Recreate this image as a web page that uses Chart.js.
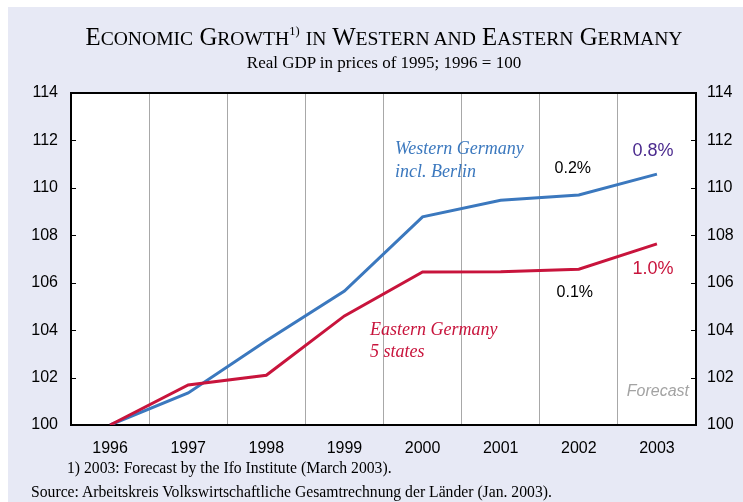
<!DOCTYPE html>
<html>
<head>
<meta charset="utf-8">
<script src="https://cdn.jsdelivr.net/npm/chart.js@4.4.1/dist/chart.umd.min.js"></script>
<style>
  body { margin: 0; background: #fff; }
  #wrap { position: relative; width: 743px; height: 502px; overflow: hidden; background: #fff; }
  #panel { position: absolute; left: 8px; top: 7px; right: 0; bottom: 0; background: #e7e9f5; }
  #chart { position: absolute; left: 0; top: 0; }
  .t { position: absolute; font-family: "Liberation Serif", "Times New Roman", serif; color: #000; white-space: nowrap; line-height: 1; }
  #title { left: 0; width: 768px; top: 25px; text-align: center; font-size: 24.8px; }
  #title .sc { font-size: 19.6px; }
  #title .sup { font-size: 12.5px; position: relative; top: -10px; }
  #subtitle { left: 0; width: 768px; top: 54px; text-align: center; font-size: 17px; }
  #note { left: 67px; top: 460px; font-size: 15.7px; }
  #source { left: 31px; top: 484px; font-size: 15.7px; }
</style>
</head>
<body>
<div id="wrap">
  <div id="panel"></div>
  <canvas id="chart" width="743" height="502"></canvas>
  <div class="t" id="title">E<span class="sc">CONOMIC</span> G<span class="sc">ROWTH</span><span class="sup">1)</span> <span class="sc">IN</span> W<span class="sc">ESTERN AND</span> E<span class="sc">ASTERN</span> G<span class="sc">ERMANY</span></div>
  <div class="t" id="subtitle">Real GDP in prices of 1995; 1996 = 100</div>
  <div class="t" id="note">1) 2003: Forecast by the Ifo Institute (March 2003).</div>
  <div class="t" id="source">Source: Arbeitskreis Volkswirtschaftliche Gesamtrechnung der Länder (Jan. 2003).</div>
</div>
<script>
// Real GDP index, 1996 = 100
const years = ['1996', '1997', '1998', '1999', '2000', '2001', '2002', '2003'];
const western = [100, 101.35, 103.55, 105.65, 108.78, 109.48, 109.70, 110.58];
const eastern = [100, 101.69, 102.10, 104.60, 106.45, 106.46, 106.57, 107.64];
// growth rates (%) labelled for 2002 and 2003
const westernGrowth = { '2002': 0.2, '2003': 0.8 };
const easternGrowth = { '2002': 0.1, '2003': 1.0 };
const yTicks = [100, 102, 104, 106, 108, 110, 112, 114];

const BLUE = '#3b78be';
const RED = '#c8143c';
const PURPLE = '#4b2a8e';
const SANS = '"Liberation Sans", Arial, sans-serif';
const SERIF = '"Liberation Serif", "Times New Roman", serif';

const fmt = v => v.toFixed(1) + '%';

const decor = {
  id: 'decor',
  beforeDraw(chart) {
    const { ctx, chartArea: a } = chart;
    ctx.save();
    ctx.fillStyle = '#ffffff';
    ctx.fillRect(a.left, a.top, a.right - a.left, a.bottom - a.top);
    ctx.restore();
  },
  afterDraw(chart) {
    const { ctx, chartArea: a, scales } = chart;
    const x = scales.x, y = scales.y;
    ctx.save();
    // top frame line
    ctx.strokeStyle = '#000';
    ctx.lineWidth = 2;
    ctx.beginPath();
    ctx.moveTo(a.left - 1, a.top);
    ctx.lineTo(a.right + 1, a.top);
    ctx.stroke();
    // inward tick marks on both value axes
    ctx.lineWidth = 1;
    yTicks.forEach(v => {
      const py = Math.round(y.getPixelForValue(v)) + 0.5;
      ctx.beginPath();
      ctx.moveTo(a.left, py); ctx.lineTo(a.left + 5, py);
      ctx.moveTo(a.right, py); ctx.lineTo(a.right - 5, py);
      ctx.stroke();
    });

    ctx.textBaseline = 'middle';

    // series labels
    ctx.font = 'italic 18px ' + SERIF;
    ctx.textAlign = 'left';
    ctx.fillStyle = BLUE;
    ctx.fillText('Western Germany', 395, 149);
    ctx.fillText('incl. Berlin', 395, 172);
    ctx.fillStyle = RED;
    ctx.fillText('Eastern Germany', 370, 330);
    ctx.fillText('5 states', 370, 352);

    // growth labels
    ctx.textAlign = 'center';
    const x02 = x.getPixelForValue(years.indexOf('2002'));
    const x03 = x.getPixelForValue(years.indexOf('2003'));
    ctx.font = '16px ' + SANS;
    ctx.fillStyle = '#000';
    ctx.fillText(fmt(westernGrowth['2002']), x02 - 6, y.getPixelForValue(western[6]) - 26);
    ctx.fillText(fmt(easternGrowth['2002']), x02 - 4, y.getPixelForValue(eastern[6]) + 23);
    ctx.font = '18px ' + SANS;
    ctx.fillStyle = PURPLE;
    ctx.fillText(fmt(westernGrowth['2003']), x03 - 4, y.getPixelForValue(western[7]) - 23);
    ctx.fillStyle = RED;
    ctx.fillText(fmt(easternGrowth['2003']), x03 - 4, y.getPixelForValue(eastern[7]) + 25);

    // forecast note
    ctx.font = 'italic 16px ' + SANS;
    ctx.fillStyle = '#a3a3a3';
    ctx.textAlign = 'right';
    ctx.fillText('Forecast', a.right - 7, 392);
    ctx.restore();
  }
};

const yAxis = (pos, width, pad) => ({
  type: 'linear',
  position: pos,
  min: 100,
  max: 114,
  afterBuildTicks: s => { s.ticks = yTicks.map(v => ({ value: v })); },
  afterFit: s => { s.width = width; },
  ticks: { padding: pad, color: '#000', font: { family: SANS, size: 16 } },
  grid: { drawOnChartArea: false, drawTicks: false },
  border: { display: true, color: '#000', width: 2 }
});

new Chart(document.getElementById('chart'), {
  type: 'line',
  data: {
    labels: years,
    datasets: [
      { label: 'Western Germany incl. Berlin', data: western, borderColor: BLUE, borderWidth: 3, pointRadius: 0, tension: 0, order: 1, yAxisID: 'y' },
      { label: 'Eastern Germany 5 states', data: eastern, borderColor: RED, borderWidth: 3, pointRadius: 0, tension: 0, order: 0, yAxisID: 'y' }
    ]
  },
  options: {
    responsive: false,
    animation: false,
    devicePixelRatio: 1,
    layout: { padding: { top: 93, left: 0, right: 0, bottom: 0 } },
    plugins: { legend: { display: false }, title: { display: false }, tooltip: { enabled: false } },
    scales: {
      x: {
        type: 'category',
        offset: true,
        afterFit: s => { s.height = 77; },
        grid: { offset: true, color: '#a8a8a8', lineWidth: 1, drawTicks: false },
        border: { display: true, color: '#000', width: 2 },
        ticks: { padding: 14, color: '#000', font: { family: SANS, size: 16 } }
      },
      y: yAxis('left', 71, 13),
      y2: yAxis('right', 47, 11)
    }
  },
  plugins: [decor]
});
</script>
</body>
</html>
